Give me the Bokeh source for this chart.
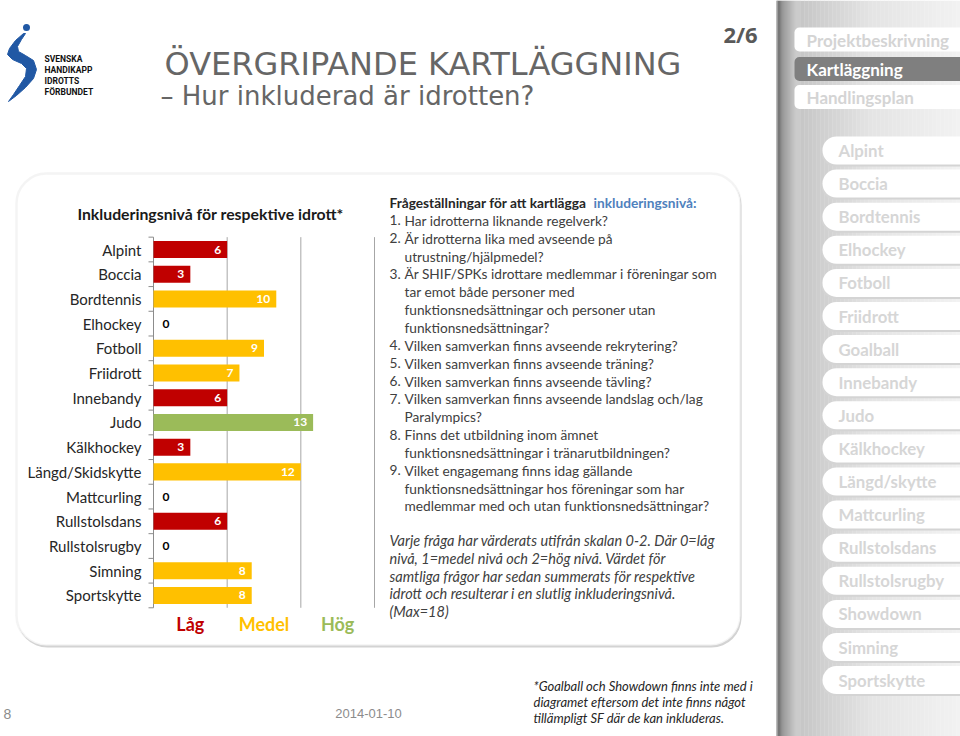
from bokeh.plotting import figure
from bokeh.models import Range1d, BoxAnnotation
from bokeh.core.properties import value
from bokeh.embed import file_html
from bokeh.resources import INLINE

# ---------------- data ----------------
sports = ["Alpint", "Boccia", "Bordtennis", "Elhockey", "Fotboll", "Friidrott",
          "Innebandy", "Judo", "Kälkhockey", "Längd/Skidskytte", "Mattcurling",
          "Rullstolsdans", "Rullstolsrugby", "Simning", "Sportskytte"]
scores = [6, 3, 10, 0, 9, 7, 6, 13, 3, 12, 0, 6, 0, 8, 8]
score_max = 18
level_names = ["Låg", "Medel", "Hög"]
level_upper = [6, 12, 18]
level_colors = ["#C00000", "#FFC000", "#9BBB59"]

chart_title = "Inkluderingsnivå för respektive idrott*"
slide_title = "ÖVERGRIPANDE KARTLÄGGNING"
slide_subtitle = "– Hur inkluderad är idrotten?"
page_label = "2/6"
logo_lines = ["SVENSKA", "HANDIKAPP", "IDROTTS", "FÖRBUNDET"]

heading_parts = ["Frågeställningar för att kartlägga", "inkluderingsnivå:"]
question_lines = [
    ("1.", "Har idrotterna liknande regelverk?"),
    ("2.", "Är idrotterna lika med avseende på"),
    ("", "utrustning/hjälpmedel?"),
    ("3.", "Är SHIF/SPKs idrottare medlemmar i föreningar som"),
    ("", "tar emot både personer med"),
    ("", "funktionsnedsättningar och personer utan"),
    ("", "funktionsnedsättningar?"),
    ("4.", "Vilken samverkan finns avseende rekrytering?"),
    ("5.", "Vilken samverkan finns avseende träning?"),
    ("6.", "Vilken samverkan finns avseende tävling?"),
    ("7.", "Vilken samverkan finns avseende landslag och/lag"),
    ("", "Paralympics?"),
    ("8.", "Finns det utbildning inom ämnet"),
    ("", "funktionsnedsättningar i tränarutbildningen?"),
    ("9.", "Vilket engagemang finns idag gällande"),
    ("", "funktionsnedsättningar hos föreningar som har"),
    ("", "medlemmar med och utan funktionsnedsättningar?"),
]
note_lines = [
    "Varje fråga har värderats utifrån skalan 0-2. Där 0=låg",
    "nivå, 1=medel nivå och 2=hög nivå. Värdet för",
    "samtliga frågor har sedan summerats för respektive",
    "idrott och resulterar i en slutlig inkluderingsnivå.",
    "(Max=18)",
]
footnote_lines = [
    "*Goalball och Showdown finns inte med i",
    "diagramet eftersom det inte finns något",
    "tillämpligt SF där de kan inkluderas.",
]
footer_page = "8"
footer_date = "2014-01-10"

menu_items = ["Projektbeskrivning", "Kartläggning", "Handlingsplan"]
menu_active = "Kartläggning"
sport_menu = ["Alpint", "Boccia", "Bordtennis", "Elhockey", "Fotboll", "Friidrott",
              "Goalball", "Innebandy", "Judo", "Kälkhockey", "Längd/skytte",
              "Mattcurling", "Rullstolsdans", "Rullstolsrugby", "Showdown",
              "Simning", "Sportskytte"]

# ---------------- layout constants (page pixels) ----------------
W, H = 960, 736
OX, OY = 0, 0
X0, X18 = 153.0, 374.0            # chart: value 0 and max
Y0, DY = 249.0, 24.71             # chart: first category centre, step
ppu = (X18 - X0) / score_max

FONT = "Lato"

p = figure(width=W, height=H,
           x_range=Range1d(OX, OX + W), y_range=Range1d(OY + H, OY),
           x_axis_type=None, y_axis_type=None, toolbar_location=None,
           output_backend="svg", min_border=0, outline_line_color=None,
           background_fill_color="white", border_fill_color="white")
p.extra_x_ranges = {"val": Range1d((OX - X0) / ppu, (OX + W - X0) / ppu)}
p.extra_y_ranges = {"cat": Range1d((OY + H - Y0) / DY, (OY - Y0) / DY)}


def txt(x, y, s, size, color="#404040", align="left", bold=False, italic=False,
        font=FONT, baseline="middle", **kw):
    style = "bold italic" if (bold and italic) else ("bold" if bold else ("italic" if italic else "normal"))
    n = max(len(v) if isinstance(v, list) else 1 for v in (x, y, s))
    xs = x if isinstance(x, list) else [x] * n
    ys = y if isinstance(y, list) else [y] * n
    ss = s if isinstance(s, list) else [s] * n
    p.text(x=xs, y=ys, text=ss,
           text_font=value(font), text_font_size=size, text_color=color,
           text_align=align, text_baseline=baseline, text_font_style=style, **kw)


# ---------------- sidebar background gradient ----------------
stops = [(776, 0x9a), (778, 0x5e), (782, 0x8c), (795, 0xc4), (870, 0xe4), (960, 0xf2)]


def grey(x):
    for (xa, ca), (xb, cb) in zip(stops[:-1], stops[1:]):
        if xa <= x <= xb:
            c = int(round(ca + (cb - ca) * (x - xa) / (xb - xa)))
            return "#%02x%02x%02x" % (c, c, c)
    return "#f2f2f2"


sx = []
x = 776.0
while x < 960:
    w = 1.0 if x < 800 else 4.0
    sx.append((x, x + w))
    x += w
p.quad(left=[a for a, b in sx], right=[b + 0.3 for a, b in sx], top=OY, bottom=OY + H,
       fill_color=[grey((a + b) / 2) for a, b in sx], line_color=None, level="image")

# menu pills
menu_y = [39, 68.5, 96.5]
for name, yc in zip(menu_items, menu_y):
    active = name == menu_active
    p.add_layout(BoxAnnotation(left=794, right=975, top=yc - 12, bottom=yc + 12,
                               fill_color="#7f7f7f" if active else "white", fill_alpha=1,
                               line_color=None, border_radius=5, level="underlay"))
    txt(806, yc + 0.5, name, "17px", color="white" if active else "#d4d4d4", bold=True)

for k, name in enumerate(sport_menu):
    yc = 150 + 33.1 * k
    p.add_layout(BoxAnnotation(left=821, right=990, top=yc - 13, bottom=yc + 16,
                               fill_color="#d4d4d4", fill_alpha=1, line_color=None,
                               border_radius=14, level="underlay"))
    p.add_layout(BoxAnnotation(left=822, right=990, top=yc - 14, bottom=yc + 14,
                               fill_color="white", fill_alpha=1, line_color=None,
                               border_radius=14, level="underlay"))
    txt(838, yc, name, "16.8px", color="#d6d6d6", bold=True)

# ---------------- content box ----------------
p.add_layout(BoxAnnotation(left=17, right=741, top=175, bottom=647, fill_color="#d2d2d2",
                           fill_alpha=1, line_color=None, border_radius=30, level="underlay"))
p.add_layout(BoxAnnotation(left=16, right=740, top=173, bottom=645, fill_color="white",
                           fill_alpha=1, line_color="#dcdcdc", line_width=2.5,
                           border_radius=30, level="underlay"))

# ---------------- header ----------------
logo_l = [(23, 33), (15, 40), (9, 48), (7, 54), (12, 59), (21, 63), (26, 68), (25, 76),
          (19, 85), (13, 94), (8, 101)]
logo_r = [(16, 95), (25, 87), (33, 78), (36, 69), (33, 60), (25, 55), (18, 51), (17, 46),
          (21, 39), (25, 33)]
pts = logo_l + logo_r
p.patch([a for a, b in pts], [b for a, b in pts], fill_color="#2158a4", line_color="#2158a4",
        line_width=1)
p.scatter([26], [27], size=7, fill_color="#2158a4", line_color=None)
for k, s in enumerate(logo_lines):
    txt(44, 58 + 11 * k, s, "8.5px", color="#111111", bold=True, font="Roboto")

txt(164, 63, slide_title, "32px", color="#666666", font="DejaVu Sans", baseline="alphabetic")
txt(160, 95, slide_subtitle, "26px", color="#666666", font="DejaVu Sans", baseline="alphabetic")
txt(740, 33, page_label, "22px", color="#595959", bold=True, font="Open Sans",
    align="center", baseline="alphabetic")
p.segment(x0=[776.5], y0=[OY], x1=[776.5], y1=[OY + H], line_color="#b0b0b0", line_width=1)

# ---------------- chart ----------------
n = len(sports)
idx = list(range(n))


def level_of(v):
    for k, up in enumerate(level_upper):
        if v <= up:
            return k
    return len(level_upper) - 1


bar_colors = [level_colors[level_of(v)] for v in scores]

txt(210, 213, chart_title, "15.8px", color="#1a1a1a", bold=True, align="center")

# grid lines at level boundaries and axis line
p.segment(x0=level_upper, y0=[-0.5] * len(level_upper), x1=level_upper,
          y1=[n - 0.5] * len(level_upper), line_color="#a6a6a6", line_width=1,
          x_range_name="val", y_range_name="cat")
p.segment(x0=[0], y0=[-0.5], x1=[0], y1=[n - 0.5], line_color="#8c8c8c", line_width=1,
          x_range_name="val", y_range_name="cat")
bounds = [i - 0.5 for i in range(n + 1)]
p.segment(x0=[X0 - 5] * len(bounds), y0=bounds, x1=[X0] * len(bounds), y1=bounds,
          line_color="#8c8c8c", line_width=1, y_range_name="cat")

p.hbar(y=idx, left=0, right=scores, height=0.69, fill_color=bar_colors, line_color=None,
       x_range_name="val", y_range_name="cat")

txt(141, idx, sports, "15px", color="#262626", align="right", y_range_name="cat")

nz = [(i, v) for i, v in zip(idx, scores) if v > 0]
zz = [(i, v) for i, v in zip(idx, scores) if v == 0]
txt([v for i, v in nz], [i for i, v in nz], [str(v) for i, v in nz], "12px", color="white",
    bold=True, align="right", x_offset=-6, x_range_name="val", y_range_name="cat")
txt([v for i, v in zz], [i for i, v in zz], [str(v) for i, v in zz], "12px", color="#000000",
    bold=True, align="left", x_offset=9, x_range_name="val", y_range_name="cat")

lows = [0] + level_upper[:-1]
mids = [(a + b) / 2 for a, b in zip(lows, level_upper)]
for m, name, col in zip(mids, level_names, level_colors):
    txt(m, 623, name, "18px", color=col, bold=True, align="center", x_range_name="val")

# ---------------- questions ----------------
QX, QTX, QY, QDY = 389, 404, 202, 17.85
QF = "13.7px"
txt(QX, QY, heading_parts[0], QF, color="#262626", bold=True)
txt(593, QY, heading_parts[1], QF, color="#4f81bd", bold=True)
for k, (num, s) in enumerate(question_lines):
    y = QY + QDY * (k + 1)
    if num:
        txt(QX, y, num, QF)
    txt(QTX, y, s, QF)
for k, s in enumerate(note_lines):
    txt(QX, 540 + 17.8 * k, s, "14.5px", italic=True)

# ---------------- footer ----------------
for k, s in enumerate(footnote_lines):
    txt(533, 685 + 16 * k, s, "13px", color="#262626", italic=True)
txt(3, 713, footer_page, "14px", color="#8c8c8c", font="Liberation Sans")
txt(368, 713, footer_date, "13px", color="#8c8c8c", font="Liberation Sans", align="center")

open("out.html", "w").write(file_html(p, INLINE))
